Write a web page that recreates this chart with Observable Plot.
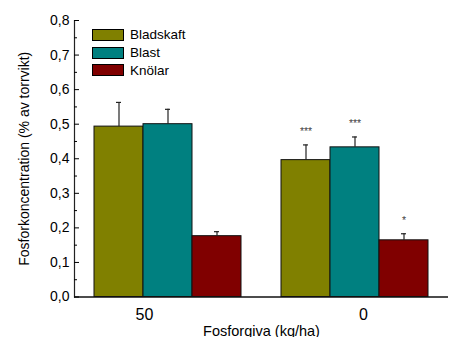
<!DOCTYPE html>
<html>
<head>
<meta charset="utf-8">
<script src="https://cdn.jsdelivr.net/npm/d3@7"></script>
<script src="https://cdn.jsdelivr.net/npm/@observablehq/plot@0.6"></script>
<style>
  html, body { margin: 0; padding: 0; background: #fff; }
  #wrap { position: relative; width: 454px; height: 337px; font-family: Arial, "Liberation Sans", sans-serif; }
  #legend { position: absolute; left: 92px; top: 26px; font-size: 13.5px; color: #000; }
  #legend .row { display: flex; align-items: center; height: 17.8px; }
  #legend .sw { width: 30px; height: 10px; border: 1px solid #000; margin-right: 6px; }
</style>
</head>
<body>
<div id="wrap"><div id="legend"></div></div>
<script>
// Data
const doses = ["50", "0"];                       // Fosforgiva (kg/ha)
const parts = ["Bladskaft", "Blast", "Knölar"];  // plant parts (series)
const partColors = ["#808000", "#008080", "#800000"];
const mean50 = [0.493, 0.500, 0.176];
const sd50   = [0.070, 0.043, 0.013];
const mean0  = [0.396, 0.433, 0.164];
const sd0    = [0.044, 0.030, 0.019];
const stars50 = ["", "", ""];
const stars0  = ["***", "***", "*"];
const yMajorTicks = [0, 0.1, 0.2, 0.3, 0.4, 0.5, 0.6, 0.7, 0.8];
const yMinorTicks = [0.05, 0.15, 0.25, 0.35, 0.45, 0.55, 0.65, 0.75];

const rows = [];
parts.forEach((p, i) => {
  rows.push({dose: "50", part: p, mean: mean50[i], sd: sd50[i], star: stars50[i]});
  rows.push({dose: "0", part: p, mean: mean0[i], sd: sd0[i], star: stars0[i]});
});
const fmt = d => d.toFixed(1).replace(".", ",");

const chart = Plot.plot({
  width: 454,
  height: 337,
  marginLeft: 73,
  marginRight: 6,
  marginTop: 20,
  marginBottom: 40.5,
  style: {fontFamily: "Arial, 'Liberation Sans', sans-serif", color: "#000", background: "white", overflow: "visible"},
  fx: {domain: doses, padding: 0},
  x: {domain: parts, paddingInner: 0, paddingOuter: 0.381, axis: null},
  y: {domain: [0, 0.8], axis: null},
  color: {domain: parts, range: partColors},
  marks: [
    Plot.barY(rows, {fx: "dose", x: "part", y: "mean", fill: "part", stroke: "#111", strokeWidth: 1}),
    Plot.ruleX(rows, {fx: "dose", x: "part", y1: "mean", y2: d => d.mean + d.sd, stroke: "#222", strokeWidth: 1.2}),
    Plot.tickY(rows, {fx: "dose", x: "part", y: d => d.mean + d.sd, insetLeft: 22, insetRight: 22, stroke: "#222", strokeWidth: 1.2}),
    Plot.text(rows.filter(d => d.star), {fx: "dose", x: "part", y: d => d.mean + d.sd, text: "star", dy: -13, fontSize: 10.5, fill: "#444"}),
    Plot.ruleY([0], {stroke: "#111", strokeWidth: 1.4}),
    Plot.frame({anchor: "left", facetAnchor: "left", stroke: "#222", strokeWidth: 1.2}),
    Plot.axisY({ticks: yMajorTicks, tickSize: -5, tickPadding: 10, tickFormat: fmt, fontSize: 14,
      label: "Fosforkoncentration (% av torrvikt)", labelAnchor: "center", labelArrow: "none", labelOffset: 55}),
    Plot.axisY({ticks: yMinorTicks, tickSize: -3, tickFormat: () => "", label: null}),
    Plot.axisFx({anchor: "bottom", ticks: ["50"], tickSize: 0, tickPadding: 12, dx: -23.5, fontSize: 16, label: null}),
    Plot.axisFx({anchor: "bottom", ticks: ["0"], tickSize: 0, tickPadding: 12, dx: 8.5, fontSize: 16, label: null}),
    Plot.axisFx({anchor: "bottom", ticks: [], tickSize: 0, fontSize: 14.5, label: "Fosforgiva (kg/ha)", labelAnchor: "center", labelArrow: "none", labelOffset: 38.5})
  ]
});
document.getElementById("wrap").prepend(chart);

const legend = document.getElementById("legend");
parts.forEach((p, i) => {
  const row = document.createElement("div");
  row.className = "row";
  const sw = document.createElement("div");
  sw.className = "sw";
  sw.style.background = partColors[i];
  const lab = document.createElement("span");
  lab.textContent = p;
  row.append(sw, lab);
  legend.append(row);
});
</script>
</body>
</html>
